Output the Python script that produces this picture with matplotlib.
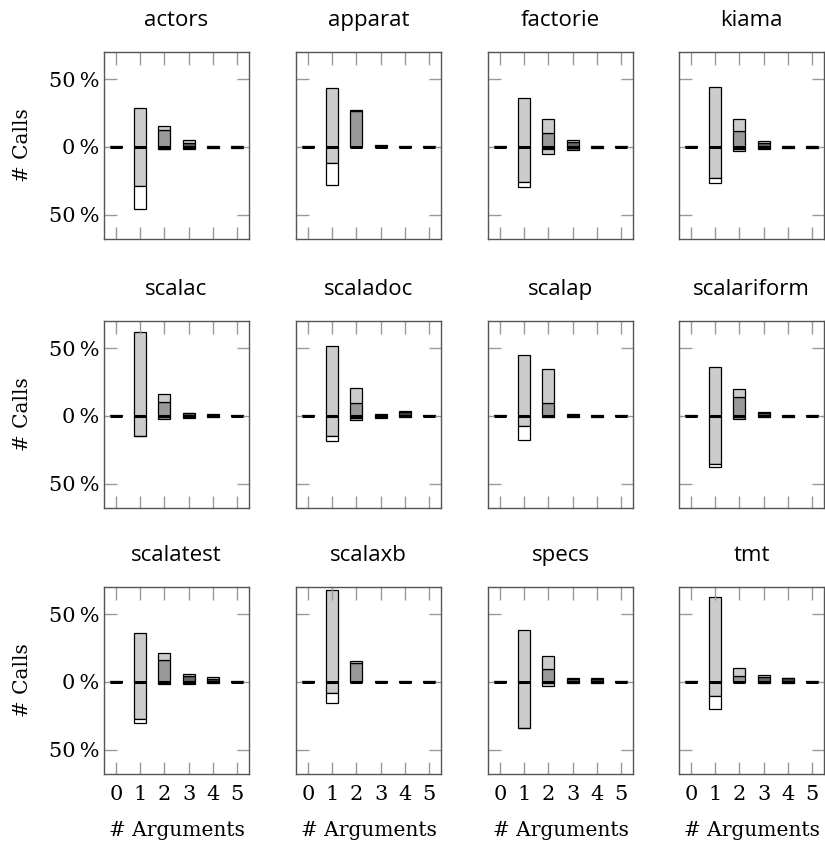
import numpy as np
import matplotlib
matplotlib.use('Agg')
import matplotlib.pyplot as plt

projects = ['actors', 'apparat', 'factorie', 'kiama',
            'scalac', 'scaladoc', 'scalap', 'scalariform',
            'scalatest', 'scalaxb', 'specs', 'tmt']
n_args = [0, 1, 2, 3, 4, 5]

# upper half (% of calls), one array per shade level, columns = # arguments
up_l0 = [[0.4, 0, 0, 0, 0, 0]] * 12
up_l1 = [[0, 28.7, 3.1, 1.5, 0, 0],
         [0, 43.6, 0.8, 0, 0, 0],
         [0, 36.3, 10.5, 1.9, 0, 0],
         [0, 44.1, 8.8, 1.4, 0, 0],
         [0, 62.0, 5.7, 0.4, 0, 0],
         [0, 51.5, 11.0, 0, 0.7, 0],
         [0, 44.9, 24.5, 0, 0, 0],
         [0, 36.3, 6.1, 0.5, 0, 0],
         [0, 35.8, 5.4, 1.4, 1.0, 0],
         [0, 67.6, 1.7, 0, 0, 0],
         [0, 38.5, 9.6, 1.0, 0.5, 0],
         [0, 62.7, 6.1, 1.2, 0.7, 0]]
up_l2 = [[0, 0, 12.3, 0, 0, 0],
         [0, 0, 26.2, 0, 0, 0],
         [0, 0, 10.3, 0, 0, 0],
         [0, 0, 11.5, 0, 0, 0],
         [0, 0, 10.5, 0, 0, 0],
         [0, 0, 9.8, 0, 0, 0],
         [0, 0, 9.8, 0, 0, 0],
         [0, 0, 14.0, 0, 0, 0],
         [0, 0, 16.2, 0, 0, 0],
         [0, 0, 14.0, 0, 0, 0],
         [0, 0, 9.8, 0, 0, 0],
         [0, 0, 4.4, 0, 0, 0]]
up_l3 = [[0, 0, 0, 3.2, 0, 0],
         [0, 0, 0, 1.5, 0, 0],
         [0, 0, 0, 3.5, 0, 0],
         [0, 0, 0, 2.8, 0, 0],
         [0, 0, 0, 1.8, 0, 0],
         [0, 0, 0, 1.2, 0, 0],
         [0, 0, 0, 1.2, 0, 0],
         [0, 0, 0, 2.2, 0, 0],
         [0, 0, 0, 4.2, 0, 0],
         [0, 0, 0, 0.8, 0, 0],
         [0, 0, 0, 2.2, 0, 0],
         [0, 0, 0, 3.5, 0, 0]]
up_l4 = [[0, 0, 0, 0, v, 0] for v in
         [1.0, 0.5, 1.0, 1.0, 1.3, 3.0, 0.6, 0.6, 2.4, 0.4, 2.2, 2.5]]
up_l5 = [[0, 0, 0, 0, 0, v] for v in
         [1.0, 0.5, 0.6, 0.8, 0.5, 0.5, 0.4, 0.4, 0.4, 0.4, 0.4, 0.4]]

# lower half (% of calls), same layout
down_l0 = [[0.4, 17.0, 0, 0, 0, 0],
           [0.4, 16.1, 0, 0, 0, 0],
           [0.4, 3.7, 0, 0, 0, 0],
           [0.4, 3.7, 0, 0, 0, 0],
           [0.4, 0.7, 0, 0, 0, 0],
           [0.4, 3.4, 0, 0, 0, 0],
           [0.4, 10.3, 0, 0, 0, 0],
           [0.4, 1.9, 0, 0, 0, 0],
           [0.4, 2.7, 0, 0, 0, 0],
           [0.4, 7.6, 0, 0, 0, 0],
           [0.4, 0.4, 0, 0, 0, 0],
           [0.4, 9.6, 0, 0, 0, 0]]
down_l1 = [[0, 29.0, 0.3, 0, 0, 0],
           [0, 11.8, 0, 0, 0, 0],
           [0, 25.7, 3.9, 0, 0, 0],
           [0, 23.3, 1.5, 0, 0, 0],
           [0, 14.5, 0, 0, 0, 0],
           [0, 15.2, 1.7, 0, 0, 0],
           [0, 7.8, 0, 0, 0, 0],
           [0, 35.8, 0, 0, 0, 0],
           [0, 27.7, 0, 0, 0, 0],
           [0, 8.1, 0, 0, 0, 0],
           [0, 34.0, 2.0, 0, 0, 0],
           [0, 10.5, 0, 0, 0, 0]]
down_l2 = [[0, 0, v, 0, 0, 0] for v in
           [1.5, 0.3, 1.7, 1.7, 2.2, 1.5, 1.2, 2.2, 1.5, 0.3, 1.2, 0.3]]
down_l3 = [[0, 0, 0, v, 0, 0] for v in
           [1.5, 0.3, 2.5, 1.5, 1.5, 1.5, 0.5, 1.0, 1.7, 0.4, 0.5, 0.5]]
down_l4 = [[0, 0, 0, 0, v, 0] for v in
           [0.7, 0.3, 0.7, 0.5, 0.5, 1.2, 0.5, 0.5, 0.5, 0.4, 0.5, 0.5]]
down_l5 = [[0, 0, 0, 0, 0, v] for v in
           [0.7, 0.3, 0.4, 0.5, 0.4, 0.4, 0.4, 0.4, 0.4, 0.4, 0.4, 0.4]]

shades = ['white', '#cccccc', '#999999', '#666666', '#444444', '#222222']

up = np.array([up_l0, up_l1, up_l2, up_l3, up_l4, up_l5])        # (level, project, arg)
down = np.array([down_l0, down_l1, down_l2, down_l3, down_l4, down_l5])

fig = plt.figure(figsize=(8.25, 8.42), dpi=100)
W, H = 825, 842
col_left = [104, 296, 488, 679]
row_top = [52, 321, 587]
pw, ph = 145, 187

for i, name in enumerate(projects):
    r, c = divmod(i, 4)
    ax = fig.add_axes([col_left[c] / W, (H - row_top[r] - ph) / H, pw / W, ph / H])

    # stack from zero outward: darkest level first
    for sign, data in ((1, up), (-1, down)):
        base = np.zeros(6)
        for lvl in range(5, -1, -1):
            h = data[lvl, i]
            mask = h > 0
            if mask.any():
                x = np.array(n_args)[mask]
                ax.bar(x, sign * h[mask], bottom=sign * base[mask], width=0.5,
                       color=shades[lvl], edgecolor='black', linewidth=0.9)
            base = base + h
    # heavy zero mark on every bar
    ax.hlines(np.zeros(6), np.array(n_args) - 0.25, np.array(n_args) + 0.25,
              color='black', linewidth=2.2, zorder=3)

    ax.set_xlim(-0.5, 5.5)
    ax.set_ylim(-68, 70)
    ax.set_xticks(n_args)
    ax.set_yticks([-50, 0, 50])
    ax.tick_params(direction='in', length=9, width=1, color='#999999',
                   top=True, right=True, labelsize=15)
    ax.tick_params(axis='x', pad=8)
    for sp in ax.spines.values():
        sp.set_color('#555555')
        sp.set_linewidth(1.0)
    ax.set_title(name, fontsize=16, family='Open Sans', pad=19)

    if c == 0:
        ax.set_yticklabels(['50\u2009%', '0\u2009%', '50\u2009%'], family='DejaVu Serif')
        ax.set_ylabel('# Calls', fontsize=14.5, family='DejaVu Serif', labelpad=12)
    else:
        ax.set_yticklabels([])
    if r == 2:
        ax.set_xticklabels([str(k) for k in n_args], family='DejaVu Serif')
        ax.set_xlabel('# Arguments', fontsize=14.5, family='DejaVu Serif', labelpad=12)
    else:
        ax.set_xticklabels([])

fig.savefig('out.png', dpi=100)
